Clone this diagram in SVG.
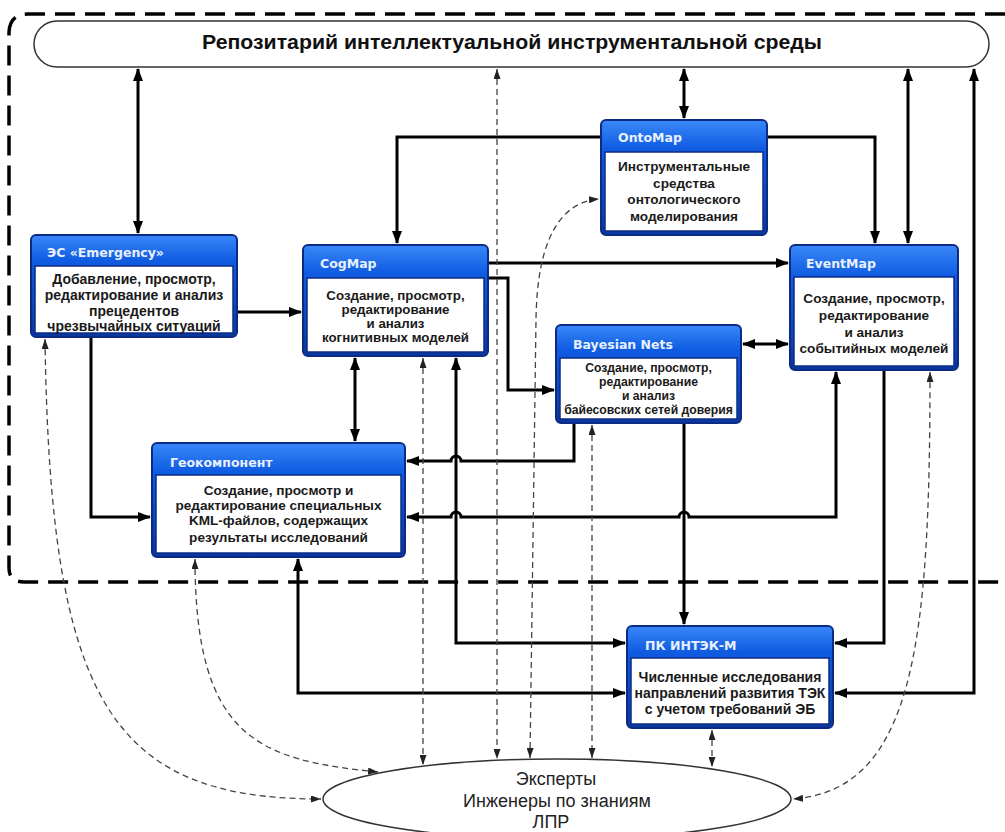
<svg xmlns="http://www.w3.org/2000/svg" width="1005" height="832" viewBox="0 0 1005 832">
<style>
.bg{fill:#fff}
.frame{fill:none;stroke:#000;stroke-width:3.5;stroke-dasharray:20 10}
.repo{fill:#fff;stroke:#333;stroke-width:1.5}
.repo-t{font-family:"Liberation Sans",Arial,sans-serif;font-weight:bold;font-size:21px;fill:#111}
.ell{fill:#fff;stroke:#333;stroke-width:1.5}
.ell-t{font-family:"Liberation Sans",Arial,sans-serif;font-size:18px;fill:#222}
.nb{fill:url(#hdr);stroke:#0c2b86;stroke-width:2}
.body{fill:#fff;stroke:#0c2b86;stroke-width:1.5}
.ht{font-family:"DejaVu Sans",Verdana,sans-serif;font-weight:bold;font-size:12.5px;fill:#e8f0ff}
.bt{font-family:"Liberation Sans",Arial,sans-serif;font-weight:bold;font-size:13.6px;fill:#1a1a1a;text-anchor:middle}
.b14{font-size:14px}
.b133{font-size:13.3px}
.bts{font-size:12.2px}
.th{fill:none;stroke:#000;stroke-width:3}
.da{fill:none;stroke:#444;stroke-width:1.3;stroke-dasharray:6 4}
.th1{marker-end:url(#a)}
.th2{marker-start:url(#a);marker-end:url(#a)}
.da2{marker-start:url(#d);marker-end:url(#d)}
</style>
<defs>
<linearGradient id="hdr" x1="0" y1="0" x2="0" y2="1">
<stop offset="0" stop-color="#3a88f8"/>
<stop offset="0.25" stop-color="#0f5ce2"/>
<stop offset="1" stop-color="#0a389c"/>
</linearGradient>
<marker id="a" viewBox="0 0 13 10" refX="12" refY="5" markerWidth="13" markerHeight="10" markerUnits="userSpaceOnUse" orient="auto-start-reverse">
<path d="M0,0 L13,5 L0,10 z" fill="#000"/>
</marker>
<marker id="d" viewBox="0 0 10 7" refX="10" refY="3.5" markerWidth="10" markerHeight="7" markerUnits="userSpaceOnUse" orient="auto-start-reverse">
<path d="M0,0 L10,3.5 L0,7 z" fill="#222"/>
</marker>
</defs>
<rect class="bg" x="0" y="0" width="1005" height="832"/>
<path class="frame" d="M1005,14 H28 Q10,14 9,32 V568 Q9,582 24,582 H1005"/>

<g id="repository">
<rect class="repo" x="34" y="21" width="955" height="46" rx="23"/>
<text class="repo-t" x="512" y="49" text-anchor="middle" textLength="620" lengthAdjust="spacingAndGlyphs">Репозитарий интеллектуальной инструментальной среды</text>
</g>

<g id="experts">
<ellipse class="ell" cx="557" cy="799" rx="234" ry="40"/>
<text class="ell-t" x="556" y="785" text-anchor="middle">Эксперты</text>
<text class="ell-t" x="557" y="806.5" text-anchor="middle">Инженеры по знаниям</text>
<text class="ell-t" x="551" y="828" text-anchor="middle">ЛПР</text>
</g>

<g id="connectors">
<path class="th th2" d="M138,69 V233"/>
<path class="th th2" d="M684,69 V118"/>
<path class="th th2" d="M908,69 V243"/>
<path class="th th2" d="M974,69 V693 H835"/>
<path class="th th1" d="M601,137 H397 V243"/>
<path class="th th1" d="M767,137 H875 V243"/>
<path class="th th1" d="M488,263 H788"/>
<path class="th th1" d="M488,278 H508 V390 H554"/>
<path class="th th1" d="M237,312 H301"/>
<path class="th th2" d="M743,344 H788"/>
<path class="th th2" d="M355,358 V441"/>
<path class="th th1" d="M91,337 V517 H150"/>
<path class="th th1" d="M574,423 V461 H461 a5,5 0 0 0 -10,0 H407"/>
<path class="th th2" d="M836,372 V517 H689 a5,5 0 0 0 -10,0 H461 a5,5 0 0 0 -10,0 H407"/>
<path class="th th1" d="M684,423 V624"/>
<path class="th th1" d="M884,370 V643 H835"/>
<path class="th th2" d="M456,358 V643 H625"/>
<path class="th th2" d="M298,559 V693 H625"/>

<path class="da da2" d="M497,69 V759"/>
<path class="da da2" d="M423,358 V765"/>
<path class="da da2" d="M592,425 V758"/>
<path class="da da2" d="M530,758 L536,320 C537,240 560,202 599,199"/>
<path class="da da2" d="M712,730 V767"/>
<path class="da da2" d="M45,339 C50,700 110,799 321,799"/>
<path class="da da2" d="M195,559 C195,740 260,760 378,772"/>
<path class="da da2" d="M930,372 C930,640 915,790 793,799"/>
</g>

<g id="node-emergency">
<rect class="nb" x="31" y="235" width="206" height="102" rx="5"/>
<rect class="body" x="35" y="266" width="198" height="67"/>
<text class="ht" x="47" y="257">ЭС «Emergency»</text>
<text class="bt b14" x="134" y="284">Добавление, просмотр,</text>
<text class="bt b14" x="134" y="300">редактирование и анализ</text>
<text class="bt b14" x="134" y="316">прецедентов</text>
<text class="bt b14" x="134" y="331">чрезвычайных ситуаций</text>
</g>

<g id="node-cogmap">
<rect class="nb" x="303" y="245" width="185" height="111" rx="5"/>
<rect class="body" x="307" y="278" width="177" height="74"/>
<text class="ht" x="320" y="268">CogMap</text>
<text class="bt b133" x="395.5" y="299.5">Создание, просмотр,</text>
<text class="bt b133" x="395.5" y="313.5">редактирование</text>
<text class="bt b133" x="395.5" y="327.5">и анализ</text>
<text class="bt b133" x="395.5" y="341.5">когнитивных моделей</text>
</g>

<g id="node-ontomap">
<rect class="nb" x="601" y="120" width="166" height="115" rx="5"/>
<rect class="body" x="605" y="152" width="158" height="79"/>
<text class="ht" x="618" y="142">OntoMap</text>
<text class="bt" x="684" y="171">Инструментальные</text>
<text class="bt" x="684" y="188">средства</text>
<text class="bt" x="684" y="204">онтологического</text>
<text class="bt" x="684" y="221">моделирования</text>
</g>

<g id="node-eventmap">
<rect class="nb" x="790" y="245" width="168" height="125" rx="5"/>
<rect class="body" x="794" y="277" width="160" height="89"/>
<text class="ht" x="806" y="268">EventMap</text>
<text class="bt" x="874" y="303">Создание, просмотр,</text>
<text class="bt" x="874" y="320">редактирование</text>
<text class="bt" x="874" y="337">и анализ</text>
<text class="bt" x="874" y="353">событийных моделей</text>
</g>

<g id="node-bayesian">
<rect class="nb" x="556" y="325" width="185" height="98" rx="5"/>
<rect class="body" x="560" y="358" width="177" height="61"/>
<text class="ht" x="573" y="349">Bayesian Nets</text>
<text class="bt bts" x="648.5" y="372">Создание, просмотр,</text>
<text class="bt bts" x="648.5" y="386">редактирование</text>
<text class="bt bts" x="648.5" y="400">и анализ</text>
<text class="bt bts" x="648.5" y="414">байесовских сетей доверия</text>
</g>

<g id="node-geo">
<rect class="nb" x="152" y="443" width="253" height="114" rx="5"/>
<rect class="body" x="156" y="475" width="245" height="78"/>
<text class="ht" x="170" y="467">Геокомпонент</text>
<text class="bt" x="278.5" y="494.5">Создание, просмотр и</text>
<text class="bt" x="278.5" y="509.5">редактирование специальных</text>
<text class="bt" x="278.5" y="524.5">KML-файлов, содержащих</text>
<text class="bt" x="278.5" y="541.5">результаты исследований</text>
</g>

<g id="node-intek">
<rect class="nb" x="627" y="626" width="206" height="102" rx="5"/>
<rect class="body" x="631" y="658" width="198" height="66"/>
<text class="ht" x="645" y="650">ПК ИНТЭК-М</text>
<text class="bt b14" x="730" y="682">Численные исследования</text>
<text class="bt b14" x="730" y="698">направлений развития ТЭК</text>
<text class="bt b14" x="730" y="714">с учетом требований ЭБ</text>
</g>
</svg>
